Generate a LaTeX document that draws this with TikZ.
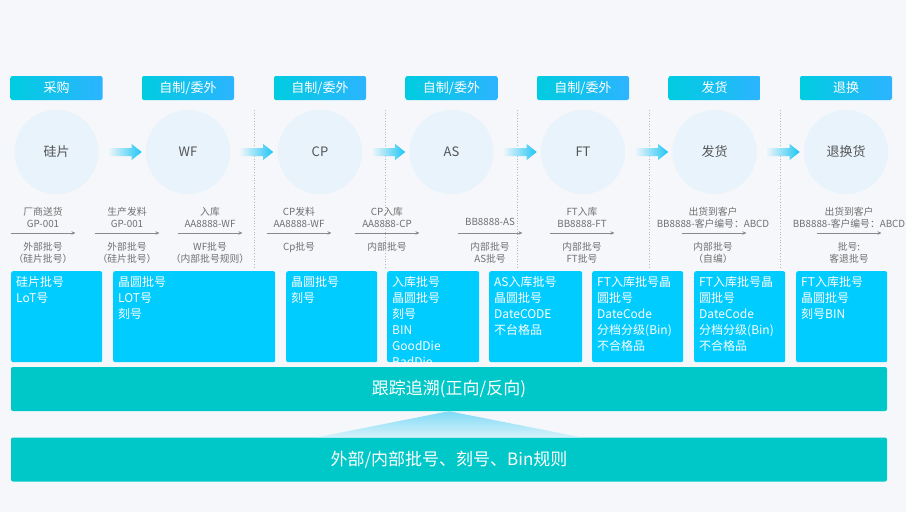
\documentclass[tikz,border=0pt]{standalone}
\usepackage{fontspec}
\setmainfont{Noto Sans CJK SC}
\usetikzlibrary{calc,arrows.meta}
\definecolor{bgc}{HTML}{F5F7FA}
\definecolor{tabl}{HTML}{00CCE0}
\definecolor{tabr}{HTML}{2CB4FF}
\definecolor{circc}{HTML}{E8F3FC}
\definecolor{circt}{HTML}{555555}
\definecolor{arrc}{HTML}{1EC6F6}
\definecolor{lblgray}{HTML}{707070}
\definecolor{lblarr}{HTML}{8A8A8A}
\definecolor{dotc}{HTML}{B8B8B8}
\definecolor{boxc}{HTML}{00CCFF}
\definecolor{barc}{HTML}{00C8C8}
\definecolor{tritop}{HTML}{7FDAF6}
\definecolor{tribot}{HTML}{D6F2FB}
\tikzset{
  tabbox/.style={left color=tabl, right color=tabr, rounded corners=2pt, minimum width=92pt, minimum height=24pt, inner sep=0, text=white, font=\fontsize{13}{15}\selectfont},
  stage/.style={circle, fill=circc, minimum size=84pt, inner sep=0, text=circt, font=\fontsize{13}{15}\selectfont},
  lbl/.style={font=\fontsize{9.8}{12}\selectfont, text=lblgray, align=center, inner sep=0, anchor=north},
  lblarrow/.style={draw=lblarr, line width=0.8pt, -{Stealth[length=4pt,width=3.5pt]}},
  sep/.style={draw=dotc, line width=0.7pt, dotted},
  infobox/.style={fill=boxc, rounded corners=2pt, inner sep=0, anchor=north west},
  infotext/.style={font=\fontsize{12}{16}\selectfont, text=white, align=left, inner sep=0, anchor=north west},
  bar/.style={fill=barc, rounded corners=2pt, inner sep=0, minimum width=876pt, minimum height=44pt, text=white, font=\fontsize{17}{19}\selectfont},
}
\newcommand\flowarrow[2]{%
  \begin{scope}[shift={($(#1.east)+(9,0)$)}]
    \path[left color=bgc, right color=arrc] (0,-4) -- (24,-4) -- (24,-8) -- (34,0) -- (24,8) -- (24,4) -- (0,4) -- cycle;
  \end{scope}}
\begin{document}
\begin{tikzpicture}[x=1pt,y=-1pt]
\fill[bgc] (0,0) rectangle (906,512);
\useasboundingbox (0,0) rectangle (906,512);

% dotted separators
\foreach \xx [count=\i] in {254,385,517,649,780} {
  \coordinate (s\i a) at (\xx,110);
  \coordinate (s\i b) at (\xx,268);
  \draw[sep] (s\i a) -- (s\i b);
}

% tabs
\node[tabbox] (tab1) at (56.5,88) {采购};
\node[tabbox] (tab2) at (188,88) {自制/委外};
\node[tabbox] (tab3) at (320,88) {自制/委外};
\node[tabbox] (tab4) at (451.5,88) {自制/委外};
\node[tabbox] (tab5) at (583,88) {自制/委外};
\node[tabbox] (tab6) at (714.5,88) {发货};
\node[tabbox] (tab7) at (846,88) {退换};

% stages
\node[stage] (c1) at (56.5,152) {硅片};
\node[stage] (c2) at (188,152) {WF};
\node[stage] (c3) at (320,152) {CP};
\node[stage] (c4) at (451.5,152) {AS};
\node[stage] (c5) at (583,152) {FT};
\node[stage] (c6) at (714.5,152) {发货};
\node[stage] (c7) at (846,152) {退换货};

\flowarrow{c1}{c2}
\flowarrow{c2}{c3}
\flowarrow{c3}{c4}
\flowarrow{c4}{c5}
\flowarrow{c5}{c6}
\flowarrow{c6}{c7}

% column labels
\node[lbl] (t1) at (43,207) {厂商送货\\GP-001};
\node[lbl] (t2) at (127,207) {生产发料\\GP-001};
\node[lbl] (t3) at (210,207) {入库\\AA8888-WF};
\node[lbl] (t4) at (299,207) {CP发料\\AA8888-WF};
\node[lbl] (t5) at (387,207) {CP入库\\AA8888-CP};
\node[lbl] (t6) at (490,218) {BB8888-AS};
\node[lbl] (t7) at (582,207) {FT入库\\BB8888-FT};
\node[lbl] (t8) at (713,207) {出货到客户\\BB8888-客户编号：ABCD};
\node[lbl] (t9) at (849,207) {出货到客户\\BB8888-客户编号：ABCD};

\foreach \cx [count=\i] in {43,127,210,299,387,490,582,714,849} {
  \coordinate (la\i) at (\cx-32.5,233);
  \coordinate (lb\i) at (\cx+32.5,233);
  \draw[lblarrow] (la\i) -- (lb\i);
}

\node[lbl] (u1) at (43,242.5) {外部批号\\（硅片批号）};
\node[lbl] (u2) at (127,242.5) {外部批号\\（硅片批号）};
\node[lbl] (u3) at (210,242.5) {WF批号\\（内部批号规则）};
\node[lbl] (u4) at (299,242.5) {Cp批号};
\node[lbl] (u5) at (387,242.5) {内部批号};
\node[lbl] (u6) at (490,242.5) {内部批号\\AS批号};
\node[lbl] (u7) at (582,242.5) {内部批号\\FT批号};
\node[lbl] (u8) at (713,242.5) {内部批号\\（自编）};
\node[lbl] (u9) at (849,242.5) {批号:\\客退批号};

% info boxes
\node[infobox, minimum width=91pt, minimum height=91pt] (b1) at (11,271) {};
\node[infobox, minimum width=162pt, minimum height=91pt] (b2) at (113,271) {};
\node[infobox, minimum width=91pt, minimum height=91pt] (b3) at (286,271) {};
\node[infobox, minimum width=92pt, minimum height=91pt] (b4) at (387,271) {};
\node[infobox, minimum width=93pt, minimum height=91pt] (b5) at (489,271) {};
\node[infobox, minimum width=91pt, minimum height=91pt] (b6) at (592,271) {};
\node[infobox, minimum width=91pt, minimum height=91pt] (b7) at (694,271) {};
\node[infobox, minimum width=91pt, minimum height=91pt] (b8) at (796,271) {};

\node[infotext] (x1) at ($(b1.north west)+(5,5)$) {硅片批号\\LoT号};
\node[infotext] (x2) at ($(b2.north west)+(5,5)$) {晶圆批号\\LOT号\\刻号};
\node[infotext] (x3) at ($(b3.north west)+(5,5)$) {晶圆批号\\刻号};
\begin{scope}
  \clip (387,271) rectangle (479,362);
  \node[infotext] (x4) at ($(b4.north west)+(5,5)$) {入库批号\\晶圆批号\\刻号\\BIN\\GoodDie\\BadDie};
\end{scope}
\node[infotext] (x5) at ($(b5.north west)+(5,5)$) {AS入库批号\\晶圆批号\\DateCODE\\不台格品};
\node[infotext] (x6) at ($(b6.north west)+(5,5)$) {FT入库批号晶\\圆批号\\DateCode\\分档分级(Bin)\\不合格品};
\node[infotext] (x7) at ($(b7.north west)+(5,5)$) {FT入库批号晶\\圆批号\\DateCode\\分档分级(Bin)\\不合格品};
\node[infotext] (x8) at ($(b8.north west)+(5,5)$) {FT入库批号\\晶圆批号\\刻号BIN};

% bottom bars
\node[bar] (bar1) at (449,389) {跟踪追溯(正向/反向)};
\node[bar] (bar2) at (449,459.5) {外部/内部批号、刻号、Bin规则};
\path[top color=tritop, bottom color=tribot] (bar1.south) -- ($(bar2.north)+(132,0)$) -- ($(bar2.north)+(-132,0)$) -- cycle;
\end{tikzpicture}
\end{document}
